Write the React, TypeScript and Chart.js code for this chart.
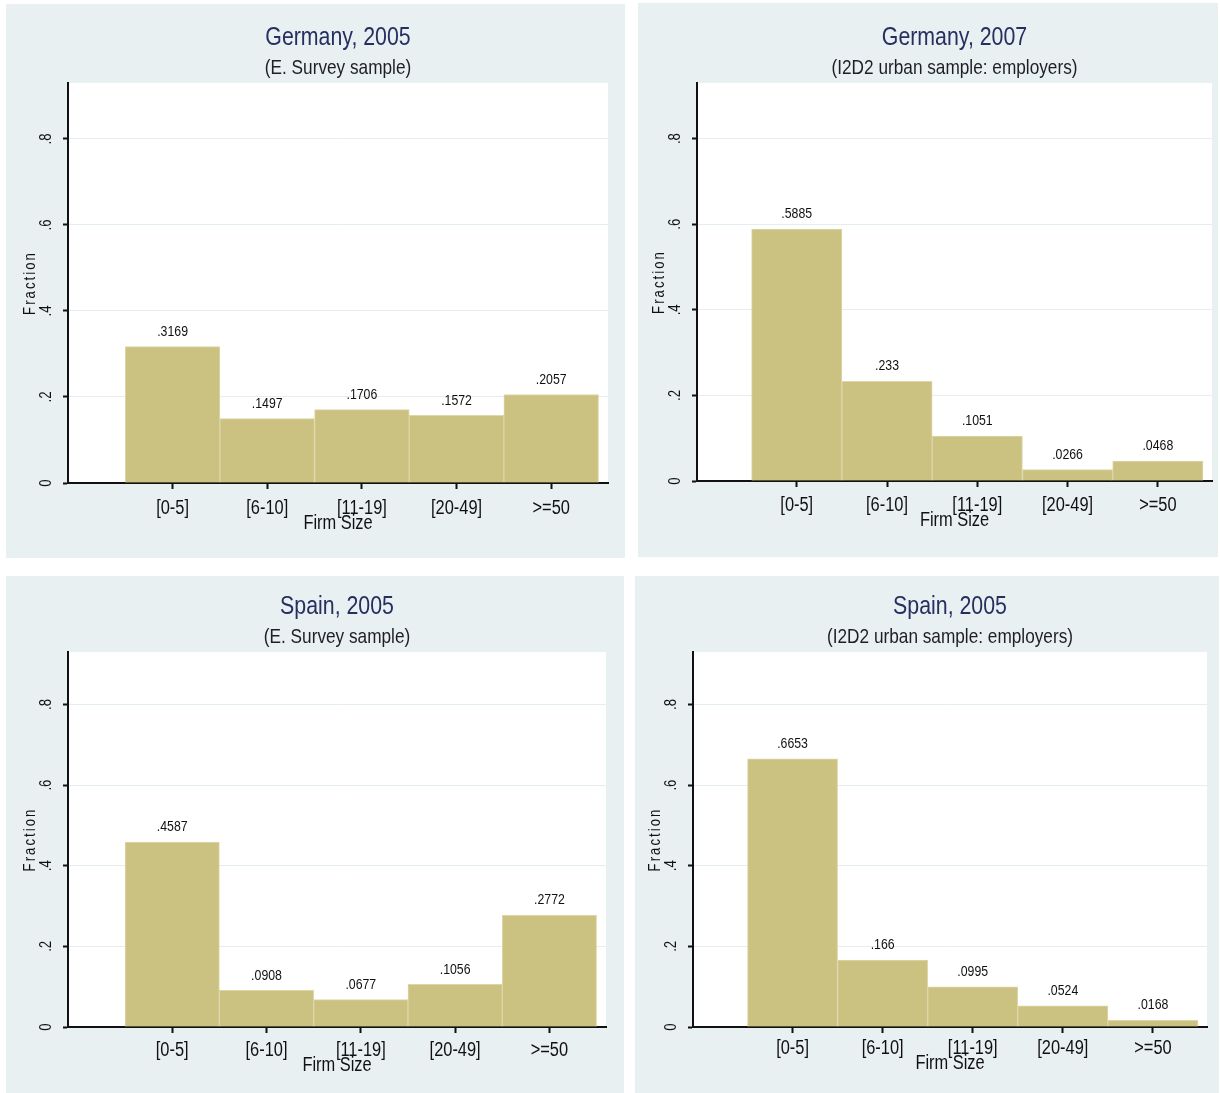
import { useEffect, useRef } from "react";
import { Chart, registerables } from "chart.js";

Chart.register(...registerables);

// Firm-size bins, placed at integer positions on a linear x axis
const FIRM_SIZE_LABELS = ["[0-5]", "[6-10]", "[11-19]", "[20-49]", ">=50"];
const BIN_POSITIONS = [1, 2, 3, 4, 5];
const Y_TICKS = [0, 0.2, 0.4, 0.6, 0.8];

// Fraction of firms in each size bin
const germany2005Survey = [0.3169, 0.1497, 0.1706, 0.1572, 0.2057];
const germany2007I2D2 = [0.5885, 0.233, 0.1051, 0.0266, 0.0468];
const spain2005Survey = [0.4587, 0.0908, 0.0677, 0.1056, 0.2772];
const spain2005I2D2 = [0.6653, 0.166, 0.0995, 0.0524, 0.0168];

const X_MIN = -0.105;
const X_MAX = 5.6;
const Y_MAX = 0.93;

const PANEL_BG = "#e8f0f2";
const BAR_FILL = "#cbc281";
const BAR_EDGE = "#ddd7a8";
const GRID_COLOR = "#e4edf0";
const TITLE_COLOR = "#263060";
const FONT = '"Liberation Sans", Arial, sans-serif';
const NARROW = 0.82;

type Box = { x: number; y: number; w: number; h: number };
type Area = { l: number; t: number; r: number; b: number };

type PanelSpec = {
  title: string;
  subtitle: string;
  values: number[];
  box: Box;
  area: Area;
  xLabelDy: number;
  xTitleDy: number;
};

const PANELS: PanelSpec[] = [
  {
    title: "Germany, 2005",
    subtitle: "(E. Survey sample)",
    values: germany2005Survey,
    box: { x: 6, y: 4, w: 619, h: 554 },
    area: { l: 68, t: 83, r: 608, b: 483 },
    xLabelDy: 25,
    xTitleDy: 40,
  },
  {
    title: "Germany, 2007",
    subtitle: "(I2D2 urban sample: employers)",
    values: germany2007I2D2,
    box: { x: 638, y: 3, w: 580, h: 554 },
    area: { l: 697, t: 83, r: 1212, b: 481 },
    xLabelDy: 24,
    xTitleDy: 39,
  },
  {
    title: "Spain, 2005",
    subtitle: "(E. Survey sample)",
    values: spain2005Survey,
    box: { x: 6, y: 576, w: 618, h: 517 },
    area: { l: 68, t: 652, r: 606, b: 1027 },
    xLabelDy: 23,
    xTitleDy: 38,
  },
  {
    title: "Spain, 2005",
    subtitle: "(I2D2 urban sample: employers)",
    values: spain2005I2D2,
    box: { x: 635, y: 576, w: 584, h: 517 },
    area: { l: 693, t: 652, r: 1207, b: 1027 },
    xLabelDy: 21,
    xTitleDy: 36,
  },
];

// Stata-style number format: drop the leading zero (".3169")
function fmt(v: number): string {
  return String(v).replace(/^0(?=\.)/, "");
}

type TextOpts = {
  size: number;
  color?: string;
  rotate?: boolean;
  spacing?: number;
};

function drawText(
  ctx: CanvasRenderingContext2D,
  text: string,
  x: number,
  y: number,
  o: TextOpts
) {
  ctx.save();
  ctx.translate(x, y);
  if (o.rotate) ctx.rotate(-Math.PI / 2);
  ctx.scale(NARROW, 1);
  ctx.font = `${o.size}px ${FONT}`;
  ctx.textAlign = "center";
  ctx.textBaseline = "middle";
  ctx.fillStyle = o.color || "#111";
  if (o.spacing) (ctx as any).letterSpacing = `${o.spacing}px`;
  ctx.fillText(text, 0, 0);
  ctx.restore();
}

const stataPanel = {
  id: "stataPanel",
  beforeDraw(chart: any) {
    const { ctx, chartArea: a, width, height } = chart;
    ctx.save();
    ctx.fillStyle = PANEL_BG;
    ctx.fillRect(0, 0, width, height);
    ctx.fillStyle = "#ffffff";
    ctx.fillRect(a.left, a.top, a.right - a.left, a.bottom - a.top);
    ctx.restore();
  },
  afterDatasetsDraw(chart: any) {
    const { ctx } = chart;
    const meta = chart.getDatasetMeta(0);
    const data = chart.data.datasets[0].data as { x: number; y: number }[];
    meta.data.forEach((bar: any, i: number) => {
      drawText(ctx, fmt(data[i].y), bar.x, bar.y - 15, { size: 15, color: "#111" });
    });
  },
  afterDraw(chart: any, _args: any, opts: any) {
    const { ctx, chartArea: a } = chart;
    const xs = chart.scales.x;
    const ys = chart.scales.y;
    const cx = (a.left + a.right) / 2;
    const cy = (a.top + a.bottom) / 2;

    drawText(ctx, opts.title, cx, a.top - 45, { size: 26, color: TITLE_COLOR });
    drawText(ctx, opts.subtitle, cx, a.top - 15, { size: 21, color: "#1e1e26" });

    xs.ticks.forEach((t: any, i: number) => {
      const px = xs.getPixelForValue(t.value);
      drawText(ctx, FIRM_SIZE_LABELS[i], px, a.bottom + opts.xLabelDy, { size: 20 });
    });
    drawText(ctx, "Firm Size", cx, a.bottom + opts.xTitleDy, { size: 20 });

    ys.ticks.forEach((t: any) => {
      const py = ys.getPixelForValue(t.value);
      drawText(ctx, fmt(t.value), a.left - 21, py, { size: 16, rotate: true });
    });
    drawText(ctx, "Fraction", a.left - 37, cy, { size: 16, rotate: true, spacing: 2.5 });
  },
};

function Panel({ spec }: { spec: PanelSpec }) {
  const ref = useRef<HTMLCanvasElement | null>(null);

  useEffect(() => {
    const canvas = ref.current;
    if (!canvas) return;
    const { box, area } = spec;
    const chart = new Chart(canvas, {
      type: "bar",
      data: {
        datasets: [
          {
            data: BIN_POSITIONS.map((x, i) => ({ x, y: spec.values[i] })),
            backgroundColor: BAR_FILL,
            borderColor: BAR_EDGE,
            borderWidth: 1,
            barPercentage: 1,
            categoryPercentage: 1,
          },
        ],
      },
      options: {
        responsive: false,
        animation: false,
        events: [],
        devicePixelRatio: 1,
        layout: {
          padding: {
            left: area.l - box.x,
            top: area.t - box.y,
            right: box.x + box.w - area.r,
            bottom: box.y + box.h - area.b,
          },
        },
        plugins: {
          legend: { display: false },
          tooltip: { enabled: false },
          title: { display: false },
          stataPanel: {
            title: spec.title,
            subtitle: spec.subtitle,
            xLabelDy: spec.xLabelDy,
            xTitleDy: spec.xTitleDy,
          },
        } as any,
        scales: {
          x: {
            type: "linear",
            min: X_MIN,
            max: X_MAX,
            offset: false,
            afterBuildTicks: (s: any) => {
              s.ticks = BIN_POSITIONS.map((v) => ({ value: v }));
            },
            afterFit: (s: any) => {
              s.height = 0;
            },
            ticks: { display: false },
            grid: {
              offset: false,
              drawOnChartArea: false,
              drawTicks: true,
              tickLength: 6,
              tickWidth: 2,
              tickColor: "#111",
            },
            border: { color: "#111", width: 2 },
          },
          y: {
            type: "linear",
            min: 0,
            max: Y_MAX,
            afterBuildTicks: (s: any) => {
              s.ticks = Y_TICKS.map((v) => ({ value: v }));
            },
            afterFit: (s: any) => {
              s.width = 0;
            },
            ticks: { display: false },
            grid: {
              color: GRID_COLOR,
              lineWidth: 1,
              drawTicks: true,
              tickLength: 5,
              tickWidth: 2,
              tickColor: "#111",
            },
            border: { color: "#111", width: 2 },
          },
        },
      },
      plugins: [stataPanel],
    });
    return () => chart.destroy();
  }, [spec]);

  return (
    <canvas
      ref={ref}
      width={spec.box.w}
      height={spec.box.h}
      style={{
        position: "absolute",
        left: spec.box.x,
        top: spec.box.y,
        width: spec.box.w,
        height: spec.box.h,
      }}
    />
  );
}

export default function App() {
  return (
    <div
      style={{
        position: "absolute",
        left: 0,
        top: 0,
        width: 1220,
        height: 1093,
        background: "#ffffff",
        overflow: "hidden",
      }}
    >
      {PANELS.map((p, i) => (
        <Panel key={i} spec={p} />
      ))}
    </div>
  );
}
